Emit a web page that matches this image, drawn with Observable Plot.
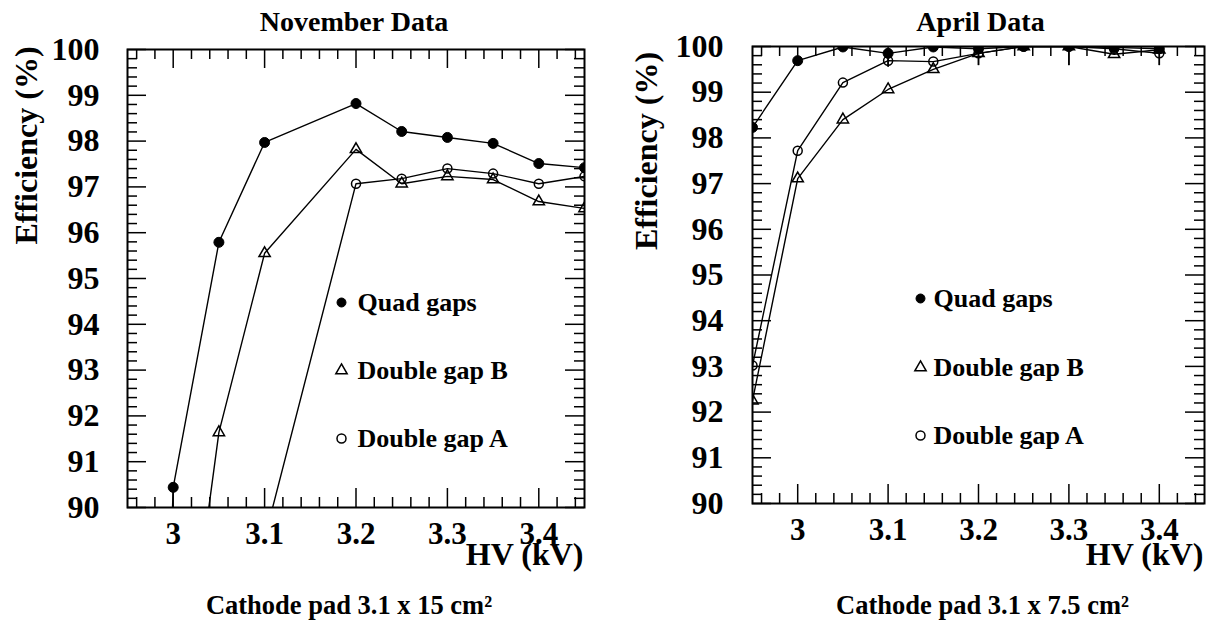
<!DOCTYPE html>
<html><head><meta charset="utf-8">
<script src="https://cdn.jsdelivr.net/npm/d3@7"></script>
<script src="https://cdn.jsdelivr.net/npm/@observablehq/plot@0.6"></script>
<style>
body{margin:0;background:#fff}
#wrap{position:relative;width:1216px;height:621px;overflow:hidden}
.panel{position:absolute;top:0}
</style></head>
<body><div id="wrap"><div class="panel" id="p1" style="left:0"></div><div class="panel" id="p2" style="left:608px"></div></div>
<script>
// ---- November data (Cathode pad 3.1 x 15 cm^2)
const novQuadHV  = [2.95, 3.00, 3.05, 3.10, 3.20, 3.25, 3.30, 3.35, 3.40, 3.45];
const novQuadEff = [60.0, 90.44, 95.79, 97.97, 98.82, 98.21, 98.08, 97.95, 97.51, 97.42];
const novBHV     = [3.00, 3.05, 3.10, 3.20, 3.25, 3.30, 3.35, 3.40, 3.45];
const novBEff    = [84.2, 91.64, 95.55, 97.82, 97.07, 97.23, 97.16, 96.68, 96.53];
const novAHV     = [3.10, 3.20, 3.25, 3.30, 3.35, 3.40, 3.45];
const novAEff    = [89.32, 97.07, 97.18, 97.40, 97.29, 97.07, 97.23];

// ---- April data (Cathode pad 3.1 x 7.5 cm^2)
const aprHV      = [2.95, 3.00, 3.05, 3.10, 3.15, 3.20, 3.25, 3.30, 3.35, 3.40];
const aprQuadEff = [98.23, 99.69, 99.99, 99.85, 99.99, 99.95, 100.0, 100.0, 99.98, 99.95];
const aprBEff    = [92.25, 97.11, 98.40, 99.06, 99.50, 99.85, 100.0, 100.0, 99.83, 99.93];
const aprAEff    = [93.02, 97.72, 99.21, 99.69, 99.67, 99.85, 100.0, 100.0, 99.95, 99.85];
const aprErrHV   = [3.10, 3.20, 3.30, 3.40];
const aprErrLow  = [99.54, 99.58, 99.58, 99.58];
const aprErrHigh = [99.84, 100.1, 100.4, 100.1];

// ---- axes / labels
const xMajor = [3.0, 3.1, 3.2, 3.3, 3.4];
const xLabels = ["3", "3.1", "3.2", "3.3", "3.4"];
const yMajor = [90, 91, 92, 93, 94, 95, 96, 97, 98, 99, 100];
const yLabels = ["90", "91", "92", "93", "94", "95", "96", "97", "98", "99", "100"];
const seriesNames = ["Quad gaps", "Double gap B", "Double gap A"];
const yTitle = "Efficiency (%)";
const xTitle = "HV (kV)";

const xMinor = d3.range(148, 173).filter(i => i % 5 !== 0).map(i => i / 50);
const yMinor = d3.range(451, 500).filter(i => i % 5 !== 0).map(i => i / 5);

const rows = (xs, ys) => xs.map((x, i) => ({x, y: ys[i]}));

const styles = [
  {symbol: "circle", r: 5, fill: "black", stroke: "black", strokeWidth: 1},
  {symbol: "triangle", r: 4.2, fill: "none", stroke: "black", strokeWidth: 1.5},
  {symbol: "circle", r: 4.5, fill: "none", stroke: "black", strokeWidth: 1.5}
];

function panel(cfg) {
  const W = 608, H = 621;
  const {mt, mb, ml, mr} = cfg;
  const fw = W - ml - mr, fh = H - mt - mb;
  const F = "'Liberation Serif', 'Times New Roman', serif";
  const T = {fontFamily: F, fontWeight: "bold", fill: "black"};
  const marks = [];
  // ticks
  marks.push(Plot.tickX(xMajor, {x: d => d, insetTop: fh - 19, strokeWidth: 1.5}));
  marks.push(Plot.tickX(xMajor, {x: d => d, insetBottom: fh - 19, strokeWidth: 1.5}));
  marks.push(Plot.tickX(xMinor, {x: d => d, insetTop: fh - 10, strokeWidth: 1.5}));
  marks.push(Plot.tickX(xMinor, {x: d => d, insetBottom: fh - 10, strokeWidth: 1.5}));
  marks.push(Plot.tickY(yMajor, {y: d => d, insetRight: fw - 19, strokeWidth: 1.5}));
  marks.push(Plot.tickY(yMajor, {y: d => d, insetLeft: fw - 19, strokeWidth: 1.5}));
  marks.push(Plot.tickY(yMinor, {y: d => d, insetRight: fw - 10, strokeWidth: 1.5}));
  marks.push(Plot.tickY(yMinor, {y: d => d, insetLeft: fw - 10, strokeWidth: 1.5}));
  // series lines
  cfg.series.forEach(s => marks.push(Plot.line(s, {x: "x", y: "y", stroke: "black", strokeWidth: 1.4, clip: true})));
  if (cfg.err) marks.push(Plot.ruleX(cfg.err, {x: "x", y1: "lo", y2: "hi", stroke: "black", strokeWidth: 1.5, clip: true}));
  cfg.series.forEach((s, i) => marks.push(Plot.dot(s, {x: "x", y: "y", ...styles[i], clip: true})));
  // frame
  marks.push(Plot.frame({stroke: "black", strokeWidth: 2}));
  // tick labels
  marks.push(Plot.text(xMajor, {x: d => d, frameAnchor: "bottom", textAnchor: "middle", lineAnchor: "bottom", dy: 36, text: (d, i) => xLabels[i], fontSize: 31, ...T}));
  marks.push(Plot.text(yMajor, {y: d => d, frameAnchor: "left", textAnchor: "end", lineAnchor: "middle", dx: -cfg.ypad, text: (d, i) => yLabels[i], fontSize: 32, ...T}));
  // titles
  marks.push(Plot.text([cfg.title], {frameAnchor: "top", textAnchor: "middle", lineAnchor: "bottom", dy: 30 - mt, dx: cfg.tdx, fontSize: 28, text: d => d, ...T}));
  marks.push(Plot.text([xTitle], {frameAnchor: "bottom-right", textAnchor: "end", lineAnchor: "bottom", dy: 564 - (H - mb), dx: -1, fontSize: 32, text: d => d, ...T}));
  marks.push(Plot.text([cfg.caption], {frameAnchor: "bottom", textAnchor: "middle", lineAnchor: "bottom", dy: 613 - (H - mb), dx: cfg.cdx, fontSize: 26.5, text: d => d, ...T}));
  marks.push(Plot.text([yTitle], {frameAnchor: "left", textAnchor: "middle", rotate: -90, lineAnchor: "middle", dx: cfg.ytdx, dy: cfg.ytdy, fontSize: 32, text: d => d, ...T}));
  // legend
  seriesNames.forEach((name, i) => {
    marks.push(Plot.dot([name], {frameAnchor: "top-left", dx: cfg.lx, dy: cfg.ly[i], ...styles[i], r: i === 0 ? 4.5 : styles[i].r}));
    marks.push(Plot.text([name], {frameAnchor: "top-left", dx: cfg.ltx, dy: cfg.ly[i], textAnchor: "start", lineAnchor: "middle", fontSize: 26, text: d => d, ...T}));
  });
  return Plot.plot({
    width: W, height: H,
    marginTop: mt, marginBottom: mb, marginLeft: ml, marginRight: mr,
    x: {domain: [2.95, 3.45], axis: null},
    y: {domain: [90, 100], axis: null},
    style: {fontFamily: F, fontWeight: "bold", background: "white", color: "black", overflow: "visible"},
    marks
  });
}

document.getElementById("p1").append(panel({
  mt: 49, mb: 621 - 507, ml: 127, mr: 608 - 584, ypad: 28,
  title: "November Data", tdx: -2,
  caption: "Cathode pad 3.1 x 15 cm²", cdx: -7,
  ytdx: -101, ytdy: -133,
  lx: 214, ly: [253, 321, 389], ltx: 230,
  series: [rows(novQuadHV, novQuadEff), rows(novBHV, novBEff), rows(novAHV, novAEff)]
}));

document.getElementById("p2").append(panel({
  mt: 46, mb: 621 - 503, ml: 752 - 608, mr: 608 - 596, ypad: 29,
  title: "April Data", tdx: 2,
  caption: "Cathode pad 3.1 x 7.5 cm²", cdx: 4,
  ytdx: -106, ytdy: -124,
  lx: 168, ly: [252, 321, 389], ltx: 181,
  series: [rows(aprHV, aprQuadEff), rows(aprHV, aprBEff), rows(aprHV, aprAEff)],
  err: aprErrHV.map((x, i) => ({x, lo: aprErrLow[i], hi: aprErrHigh[i]}))
}));
</script>
</body></html>
